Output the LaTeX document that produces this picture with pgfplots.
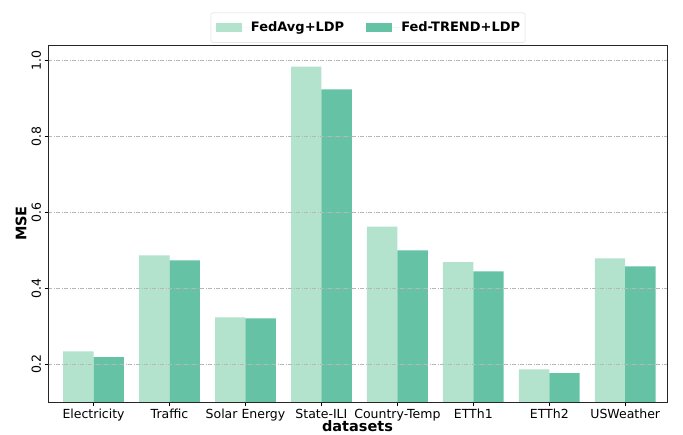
\documentclass[border=0pt]{standalone}
\usepackage{fontspec}
\setmainfont{DejaVu Sans}
\usepackage{pgfplots}
\pgfplotsset{compat=1.18}
\definecolor{lightg}{HTML}{B3E2CD}
\definecolor{darkg}{HTML}{66C2A5}
\begin{document}
\begin{tikzpicture}
\begin{axis}[
  at={(0pt,0pt)}, anchor=south west,
  scale only axis, width=619pt, height=357pt,
  ybar, bar width=0.4,
  xmin=-0.6, xmax=7.55, ymin=0.1, ymax=1.04,
  xtick={0,1,2,3,4,5,6,7},
  xticklabels={Electricity,Traffic,Solar Energy,State-ILI,Country-Temp,ETTh1,ETTh2,USWeather},
  ytick={0.2,0.4,0.6,0.8,1.0},
  /pgf/number format/assume math mode=true,
  yticklabel style={rotate=90, anchor=south, /pgf/number format/fixed, /pgf/number format/precision=1, /pgf/number format/fixed zerofill},
  ticklabel style={font=\fontsize{12.5}{14}\selectfont},
  xtick pos=bottom, ytick pos=left, tick align=outside,
  major tick length=3.5pt, tick style={black, line width=0.8pt},
  axis line style={black!85, line width=1pt},
  ymajorgrids,
  major grid style={black!28, line width=0.9pt, dash pattern=on 4pt off 1.5pt on 1pt off 1.5pt},
  axis on top,
  xlabel={\textbf{datasets}},
  ylabel={\textbf{MSE}},
  label style={font=\fontsize{14.5}{16}\selectfont},
  xlabel style={yshift=7.5pt},
  ylabel style={yshift=-2pt},
  legend columns=2,
  legend style={at={(0.517,1)}, anchor=south, yshift=2.5pt, draw=black!15, rounded corners=2pt,
    font=\fontsize{13}{15}\selectfont\bfseries, inner xsep=3pt, inner ysep=7pt,
    /tikz/every even column/.append style={column sep=18pt}},
  legend image code/.code={\draw[#1, draw=none, sharp corners] (2pt,-4.5pt) rectangle (28pt,4.5pt); \path (0pt,0pt) -- (35pt,0pt);},
]
\addplot[fill=lightg, draw=none, bar shift=-0.2] coordinates {
(0,0.233) (1,0.486) (2,0.323) (3,0.983) (4,0.562) (5,0.468) (6,0.186) (7,0.478)};
\addplot[fill=darkg, draw=none, bar shift=0.2] coordinates {
(0,0.218) (1,0.473) (2,0.320) (3,0.923) (4,0.499) (5,0.444) (6,0.176) (7,0.457)};
\legend{FedAvg+LDP,Fed-TREND+LDP}
\end{axis}
\pgfresetboundingbox
\path (-48pt,-32pt) rectangle (635pt,402pt);
\end{tikzpicture}
\end{document}
